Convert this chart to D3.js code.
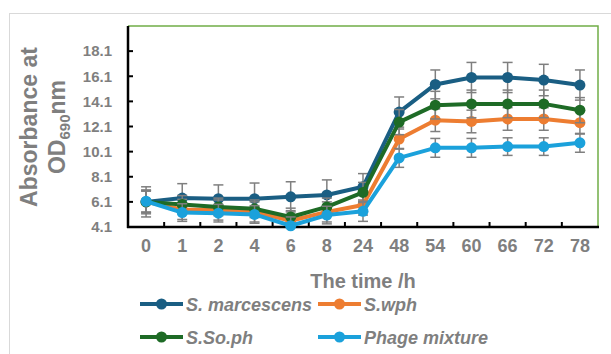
<!DOCTYPE html>
<html>
<head>
<meta charset="utf-8">
<script src="https://cdn.jsdelivr.net/npm/d3@7"></script>
<style>
  body { margin: 0; background: #fff; }
  text { font-family: "Liberation Sans", Arial, sans-serif; }
</style>
</head>
<body>
<svg id="chart" width="611" height="354"></svg>
<script>
// time points (h)
const categories = ["0", "1", "2", "4", "6", "8", "24", "48", "54", "60", "66", "72", "78"];
const yTicks = [4.1, 6.1, 8.1, 10.1, 12.1, 14.1, 16.1, 18.1];

const smValues = [6.1, 6.4, 6.35, 6.35, 6.5, 6.65, 7.3, 13.25, 15.45, 16.0, 16.0, 15.8, 15.4];
const smErr = [1.2, 1.15, 1.1, 1.25, 1.2, 1.2, 1.05, 1.2, 1.15, 1.2, 1.2, 1.25, 1.2];
const wphValues = [6.1, 5.5, 5.45, 5.3, 4.6, 5.3, 5.85, 11.1, 12.6, 12.5, 12.7, 12.7, 12.4];
const wphErr = [0.95, 0.8, 0.8, 0.8, 0.8, 0.8, 0.8, 0.8, 0.9, 0.9, 0.9, 0.9, 0.9];
const sophValues = [6.1, 5.9, 5.7, 5.55, 4.9, 5.7, 6.85, 12.45, 13.8, 13.9, 13.9, 13.9, 13.4];
const sophErr = [0.85, 0.7, 0.7, 0.7, 0.7, 0.7, 0.8, 1.0, 1.1, 1.1, 1.1, 1.1, 1.0];
const phageValues = [6.15, 5.25, 5.2, 5.1, 4.2, 5.05, 5.35, 9.6, 10.4, 10.4, 10.5, 10.5, 10.8];
const phageErr = [0.85, 0.7, 0.7, 0.7, 0.7, 0.7, 0.8, 0.75, 0.75, 0.75, 0.7, 0.7, 0.75];

const series = [
  { name: "S. marcescens", values: smValues, err: smErr, color: "#1A5E83" },
  { name: "S.wph", values: wphValues, err: wphErr, color: "#ED7D31" },
  { name: "S.So.ph", values: sophValues, err: sophErr, color: "#1E6B26" },
  { name: "Phage mixture", values: phageValues, err: phageErr, color: "#1BA1DB" }
];

const grey = "#7F7F7F";
let plotLeft = 128, plotRight = 598, plotTop = 26, plotBottom = 227;

let svg = d3.select("#chart");

// outer chart border
svg.append("rect")
  .attr("x", 9.5).attr("y", 13.5)
  .attr("width", 620).attr("height", 360)
  .attr("fill", "none").attr("stroke", "#D9D9D9").attr("stroke-width", 1);

let x = d3.scaleBand().domain(categories).range([plotLeft, plotRight]).padding(0);
let y = d3.scaleLinear().domain([4.1, 20.1]).range([plotBottom, plotTop]);
let yc = y.copy().clamp(true);
const cx = d => x(d) + x.bandwidth() / 2;

// green plot frame (top & right)
svg.append("path")
  .attr("d", `M${plotLeft},${plotTop}H${plotRight}V${plotBottom}`)
  .attr("fill", "none").attr("stroke", "#70AD47").attr("stroke-width", 1.5);

// y axis
let yAxis = svg.append("g")
  .attr("transform", `translate(${plotLeft},0)`)
  .call(d3.axisLeft(y).tickValues(yTicks).tickFormat(d3.format(".1f")).tickSize(0).tickPadding(16));
yAxis.select(".domain").remove();
yAxis.selectAll("text")
  .attr("fill", grey).attr("font-size", 15).attr("font-weight", "bold");
svg.selectAll(".ytick")
  .data(yTicks)
  .enter().append("line")
  .attr("x1", plotLeft).attr("x2", plotLeft + 5)
  .attr("y1", d => y(d)).attr("y2", d => y(d))
  .attr("stroke", "#000").attr("stroke-width", 2);

// x axis labels
let xAxis = svg.append("g")
  .attr("transform", `translate(0,${plotBottom})`)
  .call(d3.axisBottom(x).tickSize(0).tickPadding(12));
xAxis.select(".domain").remove();
xAxis.selectAll("text")
  .attr("fill", grey).attr("font-size", 18).attr("font-weight", "bold");
svg.selectAll(".xtick")
  .data(categories.slice(1))
  .enter().append("line")
  .attr("x1", d => x(d)).attr("x2", d => x(d))
  .attr("y1", plotBottom).attr("y2", plotBottom - 5)
  .attr("stroke", "#000").attr("stroke-width", 2);

// axis lines
svg.append("line")
  .attr("x1", plotLeft).attr("x2", plotLeft).attr("y1", plotTop).attr("y2", plotBottom + 1)
  .attr("stroke", "#000").attr("stroke-width", 2.5);
svg.append("line")
  .attr("x1", plotLeft - 1).attr("x2", plotRight + 1).attr("y1", plotBottom).attr("y2", plotBottom)
  .attr("stroke", "#000").attr("stroke-width", 2.5);

let line = d3.line()
  .x((d, i) => cx(categories[i]))
  .y(d => y(d));

series.forEach(s => {
  let g = svg.append("g");
  // error bars
  s.values.forEach((v, i) => {
    let px = cx(categories[i]);
    let y1 = yc(v + s.err[i]), y2 = yc(v - s.err[i]);
    g.append("line").attr("x1", px).attr("x2", px).attr("y1", y1).attr("y2", y2)
      .attr("stroke", grey).attr("stroke-width", 1.5);
    [v + s.err[i], v - s.err[i]].forEach(e => {
      if (e < 4.1) return;
      g.append("line").attr("x1", px - 5).attr("x2", px + 5)
        .attr("y1", y(e)).attr("y2", y(e))
        .attr("stroke", grey).attr("stroke-width", 1.5);
    });
  });
  g.append("path")
    .datum(s.values)
    .attr("d", line)
    .attr("fill", "none").attr("stroke", s.color).attr("stroke-width", 4)
    .attr("stroke-linejoin", "round");
  g.selectAll("circle")
    .data(s.values)
    .enter().append("circle")
    .attr("cx", (d, i) => cx(categories[i]))
    .attr("cy", d => y(d))
    .attr("r", 5.5)
    .attr("fill", s.color);
});

// axis titles
svg.append("text")
  .attr("x", 363).attr("y", 288)
  .attr("text-anchor", "middle")
  .attr("fill", grey).attr("font-size", 20).attr("font-weight", "bold")
  .text("The time /h");

let yt = svg.append("g").attr("transform", "translate(0,127) rotate(-90)");
yt.append("text")
  .attr("x", 0).attr("y", 37)
  .attr("text-anchor", "middle")
  .attr("fill", grey).attr("font-size", 23).attr("font-weight", "bold")
  .text("Absorbance at");
let t2 = yt.append("text")
  .attr("x", 0).attr("y", 65)
  .attr("text-anchor", "middle")
  .attr("fill", grey).attr("font-size", 23).attr("font-weight", "bold");
t2.append("tspan").text("OD");
t2.append("tspan").attr("font-size", 15).attr("dy", 5).text("690");
t2.append("tspan").attr("dy", -5).text("nm");

// legend
const legendPos = [[140, 304], [318, 304], [140, 337], [318, 337]];
series.forEach((s, i) => {
  let [lx, ly] = legendPos[i];
  let lg = svg.append("g").attr("transform", `translate(${lx},${ly})`);
  lg.append("line").attr("x1", 0).attr("x2", 43).attr("y1", 0).attr("y2", 0)
    .attr("stroke", s.color).attr("stroke-width", 4);
  lg.append("circle").attr("cx", 21.5).attr("cy", 0).attr("r", 5.5).attr("fill", s.color);
  lg.append("text")
    .attr("x", 46).attr("y", 6.5)
    .attr("fill", grey).attr("font-size", 18).attr("font-weight", "bold")
    .attr("font-style", "italic")
    .text(s.name);
});
</script>
</body>
</html>
